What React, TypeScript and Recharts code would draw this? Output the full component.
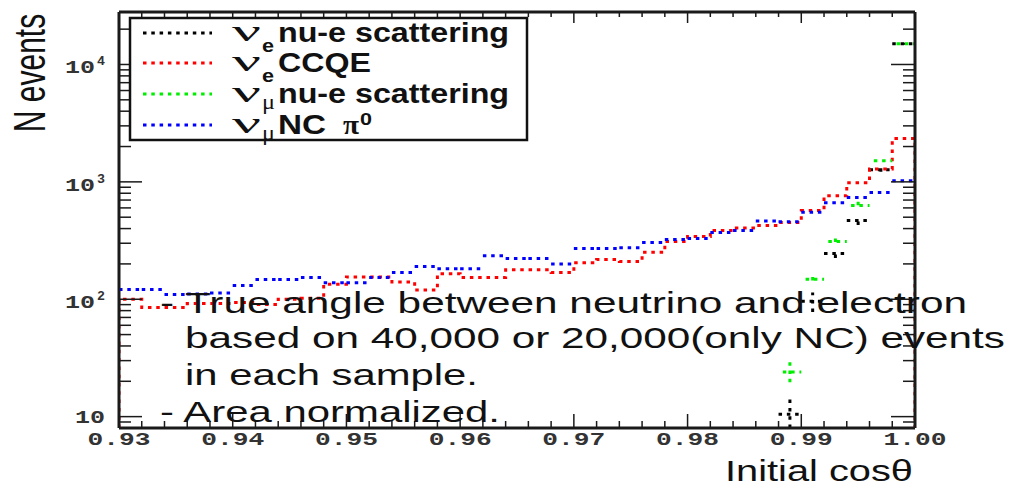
import React from 'react';
import { LineChart, Line, XAxis, YAxis } from 'recharts';

// ---- data ----
const binEdges = [
  0.930, 0.932, 0.934, 0.936, 0.938, 0.940, 0.942, 0.944, 0.946, 0.948,
  0.950, 0.952, 0.954, 0.956, 0.958, 0.960, 0.962, 0.964, 0.966, 0.968,
  0.970, 0.972, 0.974, 0.976, 0.978, 0.980, 0.982, 0.984, 0.986, 0.988,
  0.990, 0.992, 0.994, 0.996, 0.998, 1.000,
];

const N = null;
const nueScatter = [N, N, N, N, N, N, N, N, N, N, N, N, N, N, N, N, N, N, N, N, N, N, N, N, N, N, N, N, N, 10.5, 96, 245, 468, 1270, 15000];
const nueScatterErr = [N, N, N, N, N, N, N, N, N, N, N, N, N, N, N, N, N, N, N, N, N, N, N, N, N, N, N, N, N, 4, 18, 20, 38, 50, 300];
const nueCCQE = [100, 85, 85, 92, 92, 94, 90, 100, 102, 134, 155, 155, 140, 120, 165, 153, 153, 178, 178, 169, 205, 218, 210, 251, 310, 342, 385, 405, 425, 450, 570, 760, 985, 1290, 2340];
const numuScatter = [N, N, N, N, N, N, N, N, N, N, N, N, N, N, N, N, N, N, N, N, N, N, N, N, N, N, N, N, N, 24, 148, 310, 630, 1515, 15000];
const numuScatterErr = [N, N, N, N, N, N, N, N, N, N, N, N, N, N, N, N, N, N, N, N, N, N, N, N, N, N, N, N, N, 6, 15, 28, 50, 60, 300];
const numuNCpi0 = [121, 121, 110, 111, 113, 131, 147, 147, 153, 138, 138, 153, 169, 190, 182, 182, 235, 222, 222, 200, 270, 270, 275, 304, 323, 330, 370, 385, 465, 458, 550, 665, 735, 810, 1020];

const xMajorTicks = [0.93, 0.94, 0.95, 0.96, 0.97, 0.98, 0.99, 1.0];
const xMajorLabels = ['0.93', '0.94', '0.95', '0.96', '0.97', '0.98', '0.99', '1.00'];
const yMajorTicks = [10, 100, 1000, 10000];
const yMajorExp = ['', '2', '3', '4'];
const yMinorTicks = [9, 20, 30, 40, 50, 60, 70, 80, 90, 200, 300, 400, 500, 600, 700, 800, 900, 2000, 3000, 4000, 5000, 6000, 7000, 8000, 9000, 20000];
const yTicks = [...yMajorTicks, ...yMinorTicks].sort((a, b) => a - b);
const Y_DOMAIN = [8, 28000];

const seriesNames = ['nu-e scattering', 'CCQE', 'nu-e scattering', 'NC'];

// ---- builders ----
function stepData(vals: number[]) {
  const pts: any[] = [{ x: binEdges[0], y: Y_DOMAIN[0] }];
  vals.forEach((v, i) => pts.push({ x: binEdges[i], y: v }));
  pts.push({ x: binEdges[vals.length], y: vals[vals.length - 1] });
  pts.push({ x: binEdges[vals.length], y: Y_DOMAIN[0] });
  return pts;
}

function segData(vals: (number | null)[], errs?: (number | null)[]) {
  const pts: any[] = [];
  vals.forEach((v, i) => {
    if (v == null) return;
    const lo = binEdges[i];
    const hi = binEdges[i + 1];
    const c = (lo + hi) / 2;
    pts.push({ x: lo, y: v }, { x: hi, y: v }, { x: hi, y: null });
    const e = errs ? errs[i] : null;
    if (e) {
      pts.push({ x: c, y: Math.max(v - e, Y_DOMAIN[0]) }, { x: c, y: v + e }, { x: c, y: null });
    }
  });
  return pts;
}

const AXIS = '#1a1a1a';
const TICKFONT = '"Liberation Mono", "DejaVu Sans Mono", monospace';
const SANS = '"Liberation Sans", Arial, sans-serif';
const SERIF = '"Liberation Serif", "DejaVu Serif", serif';

const majorXIndex = (v: number) => xMajorTicks.findIndex((t) => Math.abs(t - v) < 1e-7);
const majorYIndex = (v: number) => yMajorTicks.findIndex((t) => Math.abs(t - v) < 1e-7);

const BottomTick = (p: any) => {
  const { x, y, payload } = p;
  const k = majorXIndex(payload.value);
  return (
    <g>
      <line x1={x} x2={x} y1={y} y2={y - (k >= 0 ? 14 : 7)} stroke={AXIS} strokeWidth={1.5} />
      {k >= 0 && (
        <text x={x} y={y + 17} textAnchor="middle" fontFamily={TICKFONT} fontWeight="bold" fontSize={19} fill="#333" textLength={63} lengthAdjust="spacingAndGlyphs">
          {xMajorLabels[k]}
        </text>
      )}
    </g>
  );
};

const TopTick = (p: any) => {
  const { x, y, payload } = p;
  const k = majorXIndex(payload.value);
  return <line x1={x} x2={x} y1={y} y2={y + (k >= 0 ? 11 : 5)} stroke={AXIS} strokeWidth={1.5} />;
};

const LeftTick = (p: any) => {
  const { x, y, payload } = p;
  const k = majorYIndex(payload.value);
  const exp = k >= 0 ? yMajorExp[k] : '';
  return (
    <g>
      <line x1={x} x2={x + (k >= 0 ? 23 : 12)} y1={y} y2={y} stroke={AXIS} strokeWidth={1.5} />
      {k >= 0 && exp === '' && (
        <text x={x - 14} y={y + 6} textAnchor="end" fontFamily={TICKFONT} fontWeight="bold" fontSize={19} fill="#333" textLength={30} lengthAdjust="spacingAndGlyphs">
          10
        </text>
      )}
      {k >= 0 && exp !== '' && (
        <g>
          <text x={x - 24} y={y + 9} textAnchor="end" fontFamily={TICKFONT} fontWeight="bold" fontSize={19} fill="#333" textLength={30} lengthAdjust="spacingAndGlyphs">
            10
          </text>
          <text x={x - 22} y={y + 1} textAnchor="start" fontFamily={TICKFONT} fontWeight="bold" fontSize={13} fill="#333" textLength={8} lengthAdjust="spacingAndGlyphs">
            {exp}
          </text>
        </g>
      )}
    </g>
  );
};

const RightTick = (p: any) => {
  const { x, y, payload } = p;
  const k = majorYIndex(payload.value);
  return <line x1={x} x2={x - (k >= 0 ? 24 : 12)} y1={y} y2={y} stroke={AXIS} strokeWidth={1.5} />;
};

const DASH = '3.5 4.8';

const legendRows = [
  { color: '#000000', sub: 'e', label: seriesNames[0], len: 231 },
  { color: '#ff0000', sub: 'e', label: seriesNames[1], len: 93 },
  { color: '#00ee00', sub: 'μ', label: seriesNames[2], len: 231 },
  { color: '#0000ff', sub: 'μ', label: seriesNames[3], len: 48 },
];
const legendCenters = [33, 63, 94, 125];

const noteLines = [
  { text: '- True angle between neutrino and electron', x: 160, y: 313, len: 807 },
  { text: 'based on 40,000 or 20,000(only NC) events', x: 185, y: 348, len: 820 },
  { text: 'in each sample.', x: 185, y: 385, len: 293 },
  { text: '- Area normalized.', x: 160, y: 422, len: 340 },
];

export default function App() {
  return (
    <div style={{ position: 'absolute', left: 0, top: 0, width: 1011, height: 487, background: '#fff' }}>
      <LineChart width={1011} height={487} margin={{ top: 11, left: 118, right: 95, bottom: 58 }}>
        <XAxis
          xAxisId="bottom"
          dataKey="x"
          type="number"
          domain={[0.93, 1.0]}
          allowDataOverflow
          ticks={binEdges}
          interval={0}
          height={1}
          tickSize={0}
          tickMargin={0}
          tick={<BottomTick />}
          axisLine={{ stroke: AXIS, strokeWidth: 3 }}
          tickLine={false}
        />
        <XAxis
          xAxisId="top"
          orientation="top"
          dataKey="x"
          type="number"
          domain={[0.93, 1.0]}
          allowDataOverflow
          ticks={binEdges}
          interval={0}
          height={1}
          tickSize={0}
          tickMargin={0}
          tick={<TopTick />}
          axisLine={{ stroke: AXIS, strokeWidth: 3 }}
          tickLine={false}
        />
        <YAxis
          yAxisId="left"
          type="number"
          scale="log"
          domain={Y_DOMAIN}
          allowDataOverflow
          ticks={yTicks}
          interval={0}
          width={1}
          tickSize={0}
          tickMargin={0}
          tick={<LeftTick />}
          axisLine={{ stroke: AXIS, strokeWidth: 3 }}
          tickLine={false}
        />
        <YAxis
          yAxisId="right"
          orientation="right"
          type="number"
          scale="log"
          domain={Y_DOMAIN}
          allowDataOverflow
          ticks={yTicks}
          interval={0}
          width={1}
          tickSize={0}
          tickMargin={0}
          tick={<RightTick />}
          axisLine={{ stroke: AXIS, strokeWidth: 3 }}
          tickLine={false}
        />
        <Line
          xAxisId="bottom"
          yAxisId="left"
          data={segData(nueScatter, nueScatterErr)}
          dataKey="y"
          type="linear"
          stroke="#000000"
          strokeWidth={3}
          strokeDasharray={DASH}
          dot={false}
          activeDot={false}
          isAnimationActive={false}
        />
        <Line
          xAxisId="bottom"
          yAxisId="left"
          data={stepData(nueCCQE)}
          dataKey="y"
          type="stepAfter"
          stroke="#ff0000"
          strokeWidth={3}
          strokeDasharray={DASH}
          dot={false}
          activeDot={false}
          isAnimationActive={false}
        />
        <Line
          xAxisId="bottom"
          yAxisId="left"
          data={segData(numuScatter, numuScatterErr)}
          dataKey="y"
          type="linear"
          stroke="#00ee00"
          strokeWidth={3}
          strokeDasharray={DASH}
          strokeDashoffset={4}
          dot={false}
          activeDot={false}
          isAnimationActive={false}
        />
        <Line
          xAxisId="bottom"
          yAxisId="left"
          data={segData(numuNCpi0)}
          dataKey="y"
          type="linear"
          stroke="#0000ff"
          strokeWidth={3}
          strokeDasharray={DASH}
          dot={false}
          activeDot={false}
          isAnimationActive={false}
        />
      </LineChart>

      <svg width={1011} height={487} style={{ position: 'absolute', left: 0, top: 0, pointerEvents: 'none' }}>
        {/* y axis title */}
        <text
          transform="translate(45,73) scale(1.45,1) rotate(-90)"
          x={0}
          y={0}
          textAnchor="middle"
          fontFamily={SANS}
          fontSize={30}
          fill="#111"
        >
          N events
        </text>
        {/* x axis title */}
        <text x={725} y={481} fontFamily={SANS} fontSize={30} fill="#111" textLength={188} lengthAdjust="spacingAndGlyphs">
          Initial cosθ
        </text>

        {/* legend */}
        <rect x={130} y={18} width={397} height={122} fill="#fff" stroke="#111" strokeWidth={2.5} />
        {legendRows.map((r, i) => {
          const cy = legendCenters[i];
          const isE = r.sub === 'e';
          return (
            <g key={i}>
              <line x1={143} x2={212} y1={cy} y2={cy} stroke={r.color} strokeWidth={3} strokeDasharray={DASH} />
              <text x={232} y={cy + 8} fontFamily={SERIF} fontSize={30} fill="#111" textLength={29} lengthAdjust="spacingAndGlyphs">
                ν
              </text>
              <text x={262} y={cy + (isE ? 19 : 15)} fontFamily={isE ? SANS : SERIF} fontWeight={isE ? 'bold' : 'normal'} fontSize={isE ? 19 : 22} fill="#111" textLength={isE ? 12 : 13} lengthAdjust="spacingAndGlyphs">
                {r.sub}
              </text>
              <text x={278} y={cy + 9} fontFamily={SANS} fontWeight="bold" fontSize={28} fill="#111" textLength={r.len} lengthAdjust="spacingAndGlyphs">
                {r.label}
              </text>
              {i === 3 && (
                <g>
                  <text x={343} y={cy + 9} fontFamily={SERIF} fontWeight="bold" fontSize={28} fill="#111" textLength={16} lengthAdjust="spacingAndGlyphs">
                    π
                  </text>
                  <text x={360} y={cy} fontFamily={SANS} fontWeight="bold" fontSize={17} fill="#111" textLength={12} lengthAdjust="spacingAndGlyphs">
                    0
                  </text>
                </g>
              )}
            </g>
          );
        })}

        {/* annotation */}
        {noteLines.map((l, i) => (
          <text key={i} x={l.x} y={l.y} fontFamily={SANS} fontSize={30} fill="#111" textLength={l.len} lengthAdjust="spacingAndGlyphs">
            {l.text}
          </text>
        ))}
      </svg>
    </div>
  );
}
